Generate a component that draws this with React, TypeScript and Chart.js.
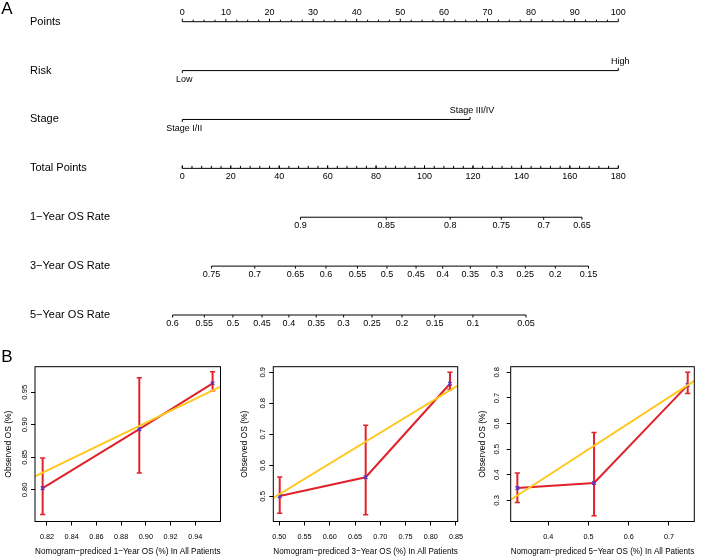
import React, { useEffect, useRef } from "react";
import { Chart, registerables } from "chart.js";

Chart.register(...registerables);

const FONT = "'Liberation Sans', Arial, Helvetica, sans-serif";
const RED = "#e0232b";
const GOLD = "#ffc81f";
const BLUE = "#4b35d6";

// ---------------- Panel A : nomogram ----------------
const rowLabels = [
  "Points",
  "Risk",
  "Stage",
  "Total Points",
  "1\u2212Year OS Rate",
  "3\u2212Year OS Rate",
  "5\u2212Year OS Rate",
];
const pointsTicks = [0, 10, 20, 30, 40, 50, 60, 70, 80, 90, 100];
const riskLevels = ["Low", "High"];
const riskPoints = [0, 100];
const stageLevels = ["Stage I/II", "Stage III/IV"];
const stagePoints = [0, 66];
const totalPointsTicks = [0, 20, 40, 60, 80, 100, 120, 140, 160, 180];
const os1Labels = ["0.9", "0.85", "0.8", "0.75", "0.7", "0.65"];
const os1Total = [48.8, 84.2, 110.6, 131.7, 149.2, 165.0];
const os3Labels = ["0.75", "0.7", "0.65", "0.6", "0.55", "0.5", "0.45", "0.4", "0.35", "0.3", "0.25", "0.2", "0.15"];
const os3Total = [12.1, 29.9, 46.7, 59.3, 72.3, 84.5, 96.5, 107.5, 118.9, 129.9, 141.6, 154.0, 167.7];
const os5Labels = ["0.6", "0.55", "0.5", "0.45", "0.4", "0.35", "0.3", "0.25", "0.2", "0.15", "0.1", "0.05"];
const os5Total = [-4.0, 9.1, 20.9, 32.9, 44.0, 55.3, 66.6, 78.3, 90.7, 104.2, 120.0, 141.9];

// ---------------- Panel B : calibration ----------------
const cal1Pred = [0.8165, 0.8947, 0.954];
const cal1Obs = [0.8026, 0.8932, 0.9638];
const cal1Lower = [0.7621, 0.826, 0.9525];
const cal1Upper = [0.8488, 0.9724, 0.9816];
const cal1LineX = [0.8103, 0.9604];
const cal1LineY = [0.8206, 0.9586];
const cal1XTicks = ["0.82", "0.84", "0.86", "0.88", "0.90", "0.92", "0.94"];
const cal1YTicks = ["0.80", "0.85", "0.90", "0.95"];

const cal2Pred = [0.5008, 0.6711, 0.8381];
const cal2Obs = [0.501, 0.5617, 0.8631];
const cal2Lower = [0.4459, 0.4407, 0.8446];
const cal2Upper = [0.5624, 0.7289, 0.9];
const cal2LineX = [0.4881, 0.8534];
const cal2LineY = [0.495, 0.857];
const cal2XTicks = ["0.50", "0.55", "0.60", "0.65", "0.70", "0.75", "0.80", "0.85"];
const cal2YTicks = ["0.5", "0.6", "0.7", "0.8", "0.9"];

const cal3Pred = [0.323, 0.5137, 0.7465];
const cal3Obs = [0.3483, 0.3679, 0.7503];
const cal3Lower = [0.2916, 0.2399, 0.7177];
const cal3Upper = [0.407, 0.5653, 0.8];
const cal3LineX = [0.3065, 0.7629];
const cal3LineY = [0.3027, 0.767];
const cal3XTicks = ["0.4", "0.5", "0.6", "0.7"];
const cal3YTicks = ["0.3", "0.4", "0.5", "0.6", "0.7", "0.8"];

function txt(ctx: CanvasRenderingContext2D, s: string, x: number, y: number, size: number, align: CanvasTextAlign = "center") {
  ctx.font = `${size}px ${FONT}`;
  ctx.textAlign = align;
  ctx.textBaseline = "middle";
  ctx.fillText(s, x, y);
}
function tick(ctx: CanvasRenderingContext2D, x: number, y: number, dy: number) {
  ctx.beginPath();
  ctx.moveTo(x, y);
  ctx.lineTo(x, y + dy);
  ctx.stroke();
}

const nomogramPlugin = {
  id: "nomogramAxes",
  afterDatasetsDraw(chart: any) {
    const ctx: CanvasRenderingContext2D = chart.ctx;
    const xt = chart.scales.x;
    const xp = chart.scales.xp;
    const ys = chart.scales.y;
    ctx.save();
    ctx.strokeStyle = "#000";
    ctx.fillStyle = "#000";
    ctx.lineWidth = 1;
    txt(ctx, "A", 7, 9, 17);
    rowLabels.forEach((l, i) => txt(ctx, l, 30, ys.getPixelForValue(i), 11, "left"));

    // Points axis
    const y0 = ys.getPixelForValue(0);
    for (let p = 0; p <= 100; p += 2.5) {
      const major = pointsTicks.includes(p);
      tick(ctx, xp.getPixelForValue(p), y0, major ? -3 : -2);
    }
    pointsTicks.forEach((p) => txt(ctx, String(p), xp.getPixelForValue(p), y0 - 9.5, 9));

    // categorical rows
    const cat = (levels: string[], pts: number[], row: number) => {
      const yy = ys.getPixelForValue(row);
      levels.forEach((lab, k) => {
        const px = xp.getPixelForValue(pts[k]);
        const dir = k % 2 === 0 ? 1 : -1;
        tick(ctx, px, yy, 2.5 * dir);
        txt(ctx, lab, px + 2, yy + 9 * dir, 9);
      });
    };
    cat(riskLevels, riskPoints, 1);
    cat(stageLevels, stagePoints, 2);

    // Total points
    const y3 = ys.getPixelForValue(3);
    for (let t = 0; t <= 180; t += 4) {
      tick(ctx, xt.getPixelForValue(t), y3, -2.5);
    }
    totalPointsTicks.forEach((t) => {
      tick(ctx, xt.getPixelForValue(t), y3, -3);
      txt(ctx, String(t), xt.getPixelForValue(t), y3 + 8, 9);
    });

    // survival rate rows
    const rates: [string[], number[], number][] = [
      [os1Labels, os1Total, 4],
      [os3Labels, os3Total, 5],
      [os5Labels, os5Total, 6],
    ];
    rates.forEach(([labs, pos, row]) => {
      const yy = ys.getPixelForValue(row);
      pos.forEach((t, k) => {
        const px = xt.getPixelForValue(t);
        tick(ctx, px, yy, 2.5);
        txt(ctx, labs[k], px, yy + 8.3, 9);
      });
    });
    ctx.restore();
  },
};

function nomogramConfig(): any {
  const line = (xAxisID: string, a: number, b: number, row: number) => ({
    data: [
      { x: a, y: row },
      { x: b, y: row },
    ],
    xAxisID,
    yAxisID: "y",
    borderColor: "#000",
    borderWidth: 1,
    pointRadius: 0,
    clip: false,
  });
  return {
    type: "line",
    data: {
      datasets: [
        line("xp", pointsTicks[0], pointsTicks[pointsTicks.length - 1], 0),
        line("xp", riskPoints[0], riskPoints[1], 1),
        line("xp", stagePoints[0], stagePoints[1], 2),
        line("x", totalPointsTicks[0], totalPointsTicks[totalPointsTicks.length - 1], 3),
        line("x", os1Total[0], os1Total[os1Total.length - 1], 4),
        line("x", os3Total[0], os3Total[os3Total.length - 1], 5),
        line("x", os5Total[0], os5Total[os5Total.length - 1], 6),
      ],
    },
    options: {
      animation: false,
      responsive: false,
      devicePixelRatio: 1,
      layout: { padding: { left: 182.3, right: 90.7, top: 21.7, bottom: 25 } },
      plugins: { legend: { display: false }, tooltip: { enabled: false } },
      scales: {
        x: { type: "linear", min: 0, max: 180, display: false },
        xp: { type: "linear", axis: "x", min: 0, max: 100, display: false },
        y: { type: "linear", min: 0, max: 6, reverse: true, display: false },
      },
    },
    plugins: [nomogramPlugin],
  };
}

interface CalCfg {
  pred: number[];
  obs: number[];
  lower: number[];
  upper: number[];
  lineX: number[];
  lineY: number[];
  xTicks: string[];
  yTicks: string[];
  xMin: number;
  xMax: number;
  yMin: number;
  yMax: number;
  xTitle: string;
  yAxisWidth: number;
  padRight: number;
  yTitlePad: number;
  yLabelDist: number;
  letter?: string;
}

const calPlugin = {
  id: "calBox",
  afterDatasetsDraw(chart: any, _args: any, opts: any) {
    const ctx: CanvasRenderingContext2D = chart.ctx;
    const { left, right, top, bottom } = chart.chartArea;
    const ys = chart.scales.y;
    ctx.save();
    ctx.strokeStyle = "#000";
    ctx.fillStyle = "#000";
    ctx.lineWidth = 1;
    ctx.strokeRect(left, top, right - left, bottom - top);
    (opts.yTicks as string[]).forEach((lab) => {
      const py = ys.getPixelForValue(parseFloat(lab));
      ctx.save();
      ctx.translate(left - opts.dist, py);
      ctx.rotate(-Math.PI / 2);
      txt(ctx, lab, 0, 0, 7.6);
      ctx.restore();
    });
    if (opts.letter) txt(ctx, opts.letter, 7, 17.5, 17);
    ctx.restore();
  },
};

function calConfig(c: CalCfg): any {
  const errData: any[] = [];
  c.pred.forEach((p, i) => {
    errData.push({ x: p, y: c.lower[i] }, { x: p, y: c.upper[i] }, { x: p, y: null });
  });
  return {
    type: "line",
    data: {
      datasets: [
        {
          data: c.lineX.map((x, i) => ({ x, y: c.lineY[i] })),
          borderColor: GOLD,
          borderWidth: 2,
          pointRadius: 0,
          order: 0,
        },
        {
          data: c.pred.map((x, i) => ({ x, y: c.obs[i] })),
          borderColor: RED,
          borderWidth: 2,
          pointStyle: "crossRot",
          pointRadius: 2.6,
          pointBorderColor: BLUE,
          pointBackgroundColor: BLUE,
          pointBorderWidth: 1.3,
          order: 1,
        },
        {
          data: errData,
          borderColor: RED,
          borderWidth: 2,
          pointStyle: "line",
          pointRadius: 2.6,
          pointBorderColor: RED,
          pointBorderWidth: 1.5,
          spanGaps: false,
          order: 2,
        },
      ],
    },
    options: {
      animation: false,
      responsive: false,
      devicePixelRatio: 1,
      layout: { padding: { left: 0, right: c.padRight, top: 26.7, bottom: 0 } },
      plugins: {
        legend: { display: false },
        tooltip: { enabled: false },
        calBox: { yTicks: c.yTicks, dist: c.yLabelDist, letter: c.letter },
      },
      scales: {
        x: {
          type: "linear",
          min: c.xMin,
          max: c.xMax,
          afterBuildTicks: (s: any) => {
            s.ticks = c.xTicks.map((v) => ({ value: parseFloat(v) }));
          },
          afterFit: (s: any) => {
            s.height = 38.5;
          },
          ticks: {
            callback: (_v: any, i: number) => c.xTicks[i],
            font: { size: 7.3, family: FONT },
            color: "#000",
            padding: 7.5,
            maxRotation: 0,
            autoSkip: false,
          },
          grid: { display: true, drawOnChartArea: false, drawTicks: true, tickLength: 4, color: "#000", lineWidth: 1 },
          border: { display: false },
          title: {
            display: true,
            text: c.xTitle,
            color: "#000",
            font: { size: 9.3, family: FONT },
            padding: { top: 0, bottom: 3.4 },
          },
        },
        y: {
          type: "linear",
          min: c.yMin,
          max: c.yMax,
          afterBuildTicks: (s: any) => {
            s.ticks = c.yTicks.map((v) => ({ value: parseFloat(v) }));
          },
          afterFit: (s: any) => {
            s.width = c.yAxisWidth;
          },
          ticks: { display: false },
          grid: { display: true, drawOnChartArea: false, drawTicks: true, tickLength: 4, color: "#000", lineWidth: 1 },
          border: { display: false },
          title: {
            display: true,
            text: "Observed OS (%)",
            color: "#000",
            font: { size: 8.5, family: FONT },
            padding: { top: c.yTitlePad, bottom: 0 },
          },
        },
      },
    },
    plugins: [calPlugin],
  };
}

const cal1: CalCfg = {
  pred: cal1Pred, obs: cal1Obs, lower: cal1Lower, upper: cal1Upper, lineX: cal1LineX, lineY: cal1LineY,
  xTicks: cal1XTicks, yTicks: cal1YTicks, xMin: 0.8103, xMax: 0.9604, yMin: 0.7513, yMax: 0.9893,
  xTitle: "Nomogram\u2212prediced 1\u2212Year OS (%) In All Patients",
  yAxisWidth: 35, padRight: 15.5, yTitlePad: 3.9, yLabelDist: 10.5, letter: "B",
};
const cal2: CalCfg = {
  pred: cal2Pred, obs: cal2Obs, lower: cal2Lower, upper: cal2Upper, lineX: cal2LineX, lineY: cal2LineY,
  xTicks: cal2XTicks, yTicks: cal2YTicks, xMin: 0.4881, xMax: 0.8534, yMin: 0.4191, yMax: 0.918,
  xTitle: "Nomogram\u2212prediced 3\u2212Year OS (%) In All Patients",
  yAxisWidth: 37.3, padRight: 14.3, yTitlePad: 4, yLabelDist: 10.5,
};
const cal3: CalCfg = {
  pred: cal3Pred, obs: cal3Obs, lower: cal3Lower, upper: cal3Upper, lineX: cal3LineX, lineY: cal3LineY,
  xTicks: cal3XTicks, yTicks: cal3YTicks, xMin: 0.3065, xMax: 0.7629, yMin: 0.2177, yMax: 0.822,
  xTitle: "Nomogram\u2212prediced 5\u2212Year OS (%) In All Patients",
  yAxisWidth: 38.7, padRight: 14.7, yTitlePad: 6, yLabelDist: 14,
};

export default function App() {
  const nomoRef = useRef<HTMLCanvasElement>(null);
  const r1 = useRef<HTMLCanvasElement>(null);
  const r2 = useRef<HTMLCanvasElement>(null);
  const r3 = useRef<HTMLCanvasElement>(null);

  useEffect(() => {
    Chart.defaults.font.family = FONT;
    Chart.defaults.color = "#000";
    const charts = [
      new Chart(nomoRef.current as HTMLCanvasElement, nomogramConfig()),
      new Chart(r1.current as HTMLCanvasElement, calConfig(cal1)),
      new Chart(r2.current as HTMLCanvasElement, calConfig(cal2)),
      new Chart(r3.current as HTMLCanvasElement, calConfig(cal3)),
    ];
    return () => charts.forEach((c) => c.destroy());
  }, []);

  const abs = (left: number, top: number, w: number, h: number): React.CSSProperties => ({
    position: "absolute",
    left,
    top,
    width: w,
    height: h,
  });

  return (
    <div style={{ position: "absolute", left: 0, top: 0, width: 709, height: 560, background: "#fff", overflow: "hidden" }}>
      <canvas ref={nomoRef} width={709} height={340} style={abs(0, 0, 709, 340)} />
      <canvas ref={r1} width={236} height={220} style={abs(0, 340, 236, 220)} />
      <canvas ref={r2} width={236} height={220} style={abs(236, 340, 236, 220)} />
      <canvas ref={r3} width={237} height={220} style={abs(472, 340, 237, 220)} />
    </div>
  );
}
